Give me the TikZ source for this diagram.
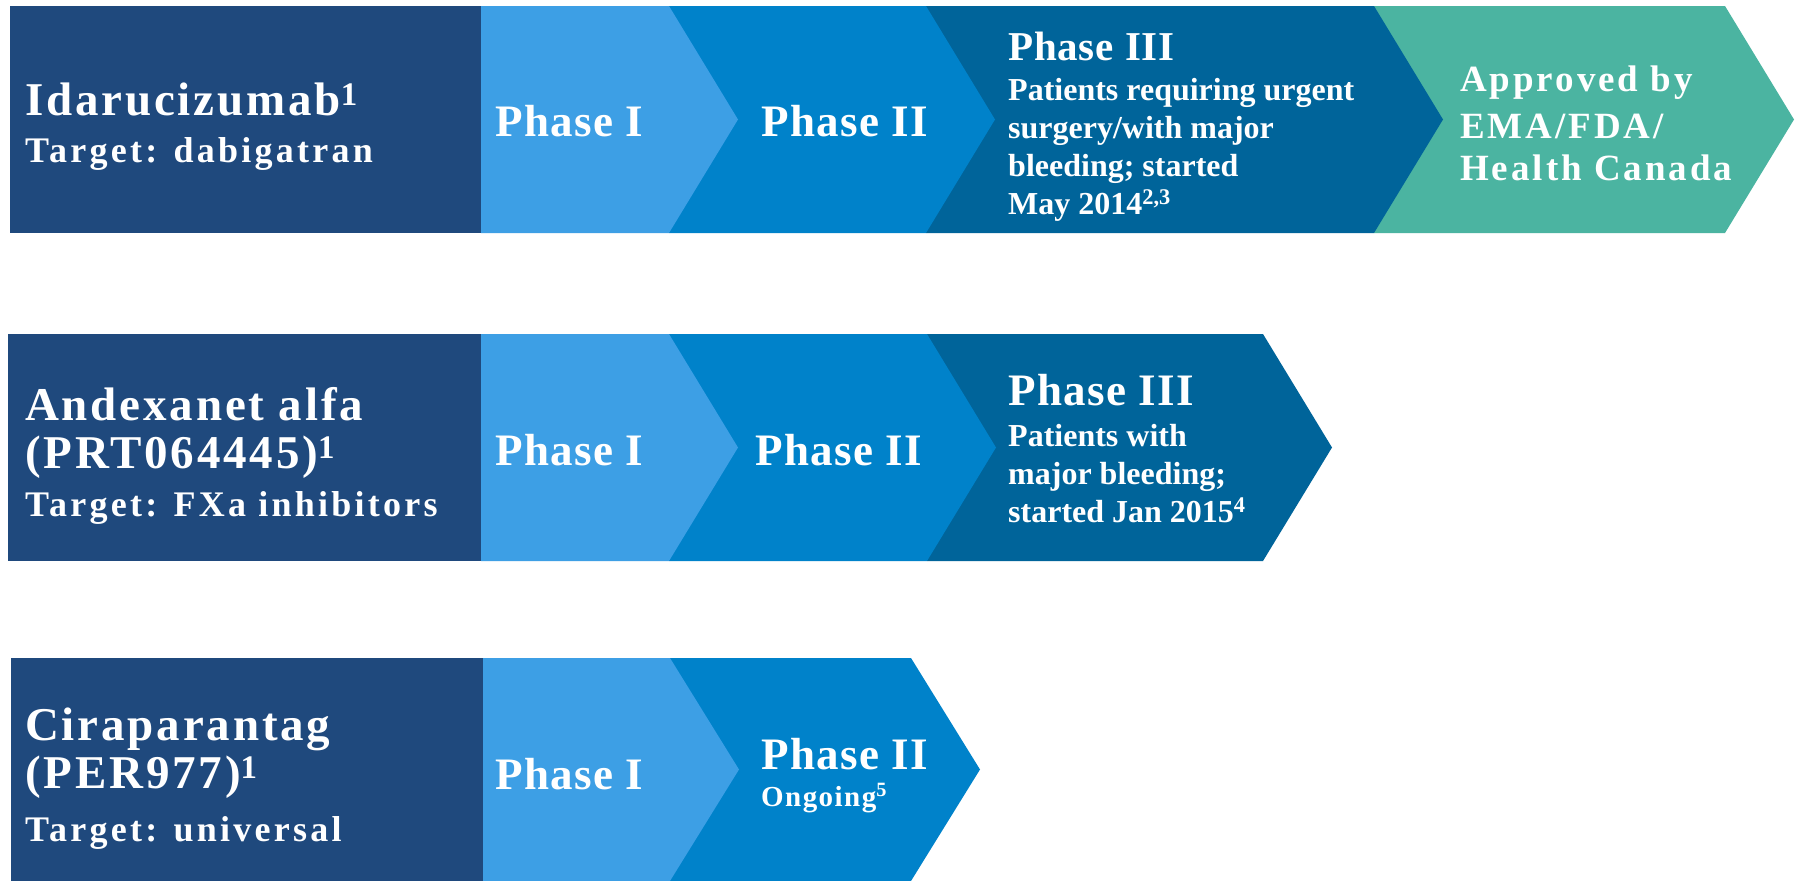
\documentclass[tikz,border=0pt]{standalone}
\usepackage{fontspec}
\setmainfont{Liberation Serif}[BoldFont={Liberation Serif Bold}]
\begin{document}
\begin{tikzpicture}[x=1pt,y=-1pt,
  navybox/.style={fill=navyc},
  ph1/.style={fill=ph1c},
  ph2/.style={fill=ph2c},
  ph3/.style={fill=ph3c},
  appr/.style={fill=tealc},
  txt/.style={text=white,inner sep=0pt,anchor=base west,align=left},
  drugname/.style={txt,font=\fontsize{47}{52}\bfseries\addfontfeature{LetterSpace=6}},
  target/.style={txt,font=\fontsize{36}{40}\bfseries\addfontfeature{LetterSpace=9}},
  phase/.style={txt,font=\fontsize{45}{50}\bfseries\addfontfeature{LetterSpace=3}},
  phasesm/.style={txt,font=\fontsize{41}{46}\bfseries\addfontfeature{LetterSpace=2}},
  body/.style={txt,font=\fontsize{32}{36}\bfseries},
  apprtxt/.style={txt,font=\fontsize{37}{44}\bfseries\addfontfeature{LetterSpace=8}},
  small/.style={txt,font=\fontsize{29}{32}\bfseries\addfontfeature{LetterSpace=5}}]
\definecolor{navyc}{HTML}{1F497D}
\definecolor{ph1c}{HTML}{3D9FE5}
\definecolor{ph2c}{HTML}{0082CA}
\definecolor{ph3c}{HTML}{00649A}
\definecolor{tealc}{HTML}{4BB4A1}
\useasboundingbox (0,0) rectangle (1800,881);
\fill[white] (0,0) rectangle (1800,881);

% chevron: left x, right x of body, top y, bottom y (tip 69 units deep)
\def\chev#1#2#3#4{(#1,#3) -- (#2,#3) -- ({#2+69},{(#3+#4)/2}) -- (#2,#4) -- (#1,#4) -- cycle}

% ---------- Row 1: Idarucizumab ----------
\fill[appr] \chev{1374}{1725}{6}{233};
\fill[ph3]  \chev{926}{1374}{6}{233};
\fill[ph2]  \chev{669}{926}{6}{233};
\fill[ph1]  \chev{481}{669}{6}{233};
\fill[navybox] (10,6) rectangle (481,233);

\node[drugname] (n1a) at (25,115) {Idarucizumab\textsuperscript{1}};
\node[target]   (n1b) at (25,162) {Target: dabigatran};
\node[phase]    (r1p1) at (495,136) {Phase I};
\node[phase]    (r1p2) at (761,136) {Phase II};
\node[phasesm]  (r1p3) at (1008,60) {Phase III};
\node[body]     (r1b1) at (1008,100) {Patients requiring urgent};
\node[body]     (r1b2) at (1008,138) {surgery/with major};
\node[body]     (r1b3) at (1008,176) {bleeding; started};
\node[body]     (r1b4) at (1008,214) {May 2014\textsuperscript{2,3}};
\node[apprtxt]  (r1a1) at (1460,91) {Approved by};
\node[apprtxt]  (r1a2) at (1460,138) {EMA/FDA/};
\node[apprtxt]  (r1a3) at (1460,180) {Health Canada};

% ---------- Row 2: Andexanet alfa ----------
\fill[ph3]  \chev{927}{1263}{334}{561};
\fill[ph2]  \chev{669}{927}{334}{561};
\fill[ph1]  \chev{481}{669}{334}{561};
\fill[navybox] (8,334) rectangle (481,561);

\node[drugname] (n2a) at (25,420) {Andexanet alfa};
\node[drugname] (n2b) at (25,468) {(PRT064445)\textsuperscript{1}};
\node[target]   (n2c) at (25,516) {Target: FXa inhibitors};
\node[phase]    (r2p1) at (495,465) {Phase I};
\node[phase]    (r2p2) at (755,465) {Phase II};
\node[phase]    (r2p3) at (1008,405) {Phase III};
\node[body]     (r2b1) at (1008,446) {Patients with};
\node[body]     (r2b2) at (1008,484) {major bleeding;};
\node[body]     (r2b3) at (1008,522) {started Jan 2015\textsuperscript{4}};

% ---------- Row 3: Ciraparantag ----------
\fill[ph2]  \chev{670}{911}{658}{881};
\fill[ph1]  \chev{483}{670}{658}{881};
\fill[navybox] (11,658) rectangle (483,881);

\node[drugname] (n3a) at (25,740) {Ciraparantag};
\node[drugname] (n3b) at (25,788) {(PER977)\textsuperscript{1}};
\node[target]   (n3c) at (25,841) {Target: universal};
\node[phase]    (r3p1) at (495,789) {Phase I};
\node[phase]    (r3p2) at (761,769) {Phase II};
\node[small]    (r3o)  at (761,806) {Ongoing\textsuperscript{5}};
\end{tikzpicture}
\end{document}
